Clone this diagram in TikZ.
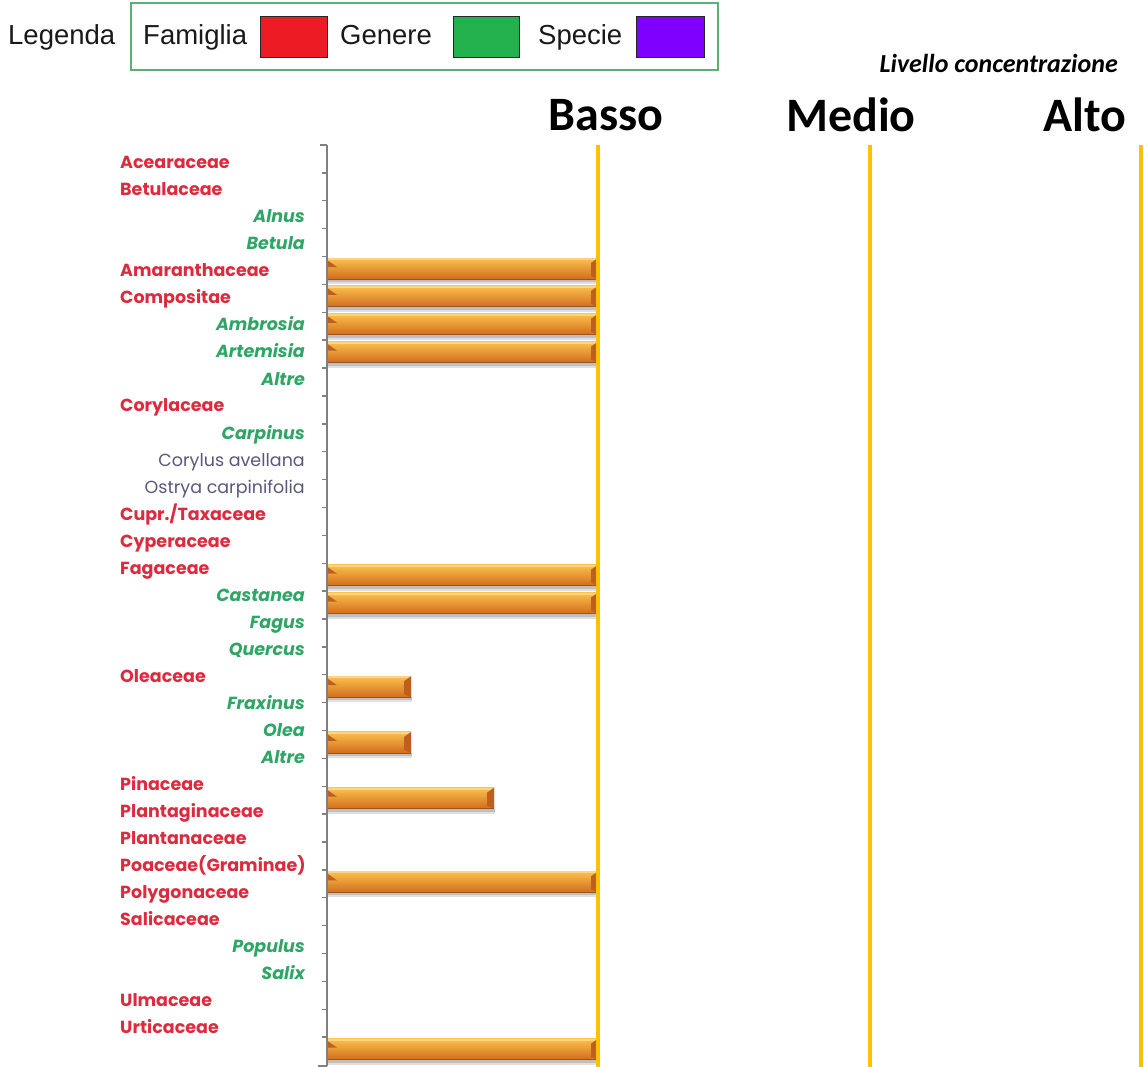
\documentclass[tikz,border=0pt]{standalone}
\usepackage{fontspec}
\setmainfont{Liberation Sans}
\newfontfamily\calib{Carlito}
\newfontfamily\geo{Poppins}
\definecolor{famred}{HTML}{DC2A3E}
\definecolor{gengreen}{HTML}{2FA566}
\definecolor{specgrey}{HTML}{5A5878}
\definecolor{axisgrey}{HTML}{808080}
\definecolor{gold}{HTML}{FFC000}
\definecolor{legR}{HTML}{ED1C24}
\definecolor{legG}{HTML}{22B14C}
\definecolor{legP}{HTML}{7F00FF}
\definecolor{legBorder}{HTML}{5FAE74}
\definecolor{barTop}{HTML}{FBC24E}
\definecolor{barMid}{HTML}{EF8E26}
\definecolor{barBot}{HTML}{D26C1C}
\definecolor{barEdge}{HTML}{9A561E}
\definecolor{barBevel}{HTML}{BE5F22}
\tikzset{
  legtext/.style={anchor=base west, inner sep=0pt, text=black!90, font=\fontsize{27.5}{27.5}\selectfont},
  legsq/.style={draw=black!85, line width=1.2pt},
  famlab/.style={anchor=base west, inner sep=0pt, text=famred, font=\geo\bfseries\fontsize{17.5}{17.5}\selectfont},
  genlab/.style={anchor=base east, inner sep=0pt, text=gengreen, font=\geo\bfseries\itshape\fontsize{17.5}{17.5}\selectfont},
  speclab/.style={anchor=base east, inner sep=0pt, text=specgrey, font=\geo\fontsize{17.5}{17.5}\selectfont},
  lvl/.style={inner sep=0pt, font=\calib\bfseries\fontsize{48}{48}\selectfont},
  goldline/.style={gold, line width=4pt},
  axisline/.style={axisgrey, line width=1.4pt},
}
\begin{document}
\begin{tikzpicture}[x=1pt,y=-1pt]
\useasboundingbox (0,0) rectangle (1144,1067);
% legend
\node[legtext] (legenda) at (8,45) {Legenda};
\draw[legBorder, line width=1.8pt] (131,3) rectangle (718,70);
\node[legtext] (famiglia) at (143,45) {Famiglia};
\node[legsq, fill=legR, minimum width=67pt, minimum height=41pt, anchor=north west] (sqR) at (260,16) {};
\node[legtext] (genere) at (340,45) {Genere};
\node[legsq, fill=legG, minimum width=66pt, minimum height=41pt, anchor=north west] (sqG) at (453,16) {};
\node[legtext] (specie) at (538,45) {Specie};
\node[legsq, fill=legP, minimum width=68pt, minimum height=41pt, anchor=north west] (sqP) at (636,16) {};
% headings
\node[inner sep=0pt, font=\calib\bfseries\itshape\fontsize{26}{26}\selectfont, anchor=east] (livello) at (1118,63) {Livello concentrazione};
\node[lvl] (basso) at (606,115) {Basso};
\node[lvl] (medio) at (851,115) {Medio};
\node[lvl] (alto) at (1085,115) {Alto};
% labels
\foreach \i/\t in {1/Acearaceae,2/Betulaceae,5/Amaranthaceae,6/Compositae,10/Corylaceae,14/{Cupr./Taxaceae},15/Cyperaceae,16/Fagaceae,20/Oleaceae,24/Pinaceae,25/Plantaginaceae,26/Plantanaceae,27/Poaceae(Graminae),28/Polygonaceae,29/Salicaceae,32/Ulmaceae,33/Urticaceae}
  \node[famlab] (lab\i) at (120,{163+27*(\i-1)+6}) {\t};
\foreach \i/\t in {3/Alnus,4/Betula,7/Ambrosia,8/Artemisia,9/Altre,11/Carpinus,17/Castanea,18/Fagus,19/Quercus,21/Fraxinus,22/Olea,23/Altre,30/Populus,31/Salix}
  \node[genlab] (lab\i) at (305,{163+27*(\i-1)+6}) {\t};
\foreach \i/\t in {12/Corylus avellana,13/Ostrya carpinifolia}
  \node[speclab] (lab\i) at (305,{163+27*(\i-1)+6}) {\t};
% bars
\foreach \r/\e in {5/598,6/598,7/598,8/598,16/598,17/598,20/411,22/411,24/494,27/598,33/598}{
  \pgfmathsetmacro{\ya}{145+27.88*(\r-1)+1.5}
  \pgfmathsetmacro{\yb}{\ya+21}
  \fill[black!25] (328,\yb) rectangle (\e+1,\yb+3);
  \fill[black!12] (328,\yb+3) rectangle (\e+1,\yb+5);
  \shade[top color=barTop, middle color=barMid, bottom color=barBot] (327,\ya) rectangle (\e,\yb);
  \fill[barTop!70!white] (327,\ya) rectangle (\e,\ya+2);
  \fill[barBevel] (327,\ya+2) -- (337,\ya+9) -- (327,\ya+9) -- cycle;
  \fill[barBevel] (\e-7,\ya+5) -- (\e,\ya) -- (\e,\yb) -- (\e-7,\yb-3) -- cycle;
  \draw[barEdge, line width=0.8pt] (327,\yb) -- (\e,\yb);
}
% axis
\draw[axisline] (327,145) -- (327,1066);
\draw[axisline] (320,145) -- (327,145);
\draw[axisline] (318,1066) -- (327,1066);
\foreach \k in {1,...,32}
  \draw[axisline] (322,{145+27.88*\k}) -- (327,{145+27.88*\k});
% level lines
\draw[goldline] (598,145) -- (598,1067);
\draw[goldline] (870,145) -- (870,1067);
\draw[goldline] (1141,145) -- (1141,1067);
\end{tikzpicture}
\end{document}
